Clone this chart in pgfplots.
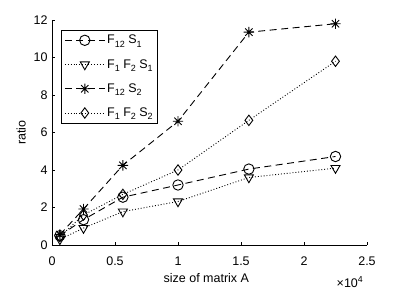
\documentclass[border=0pt]{standalone}
\usepackage{fontspec}
\setmainfont{Liberation Sans}
\usepackage{pgfplots}
\pgfplotsset{compat=1.18}
\pgfdeclareplotmark{mstar}{%
  \pgfpathmoveto{\pgfqpoint{-\pgfplotmarksize}{0pt}}\pgfpathlineto{\pgfqpoint{\pgfplotmarksize}{0pt}}%
  \pgfpathmoveto{\pgfqpoint{0pt}{-\pgfplotmarksize}}\pgfpathlineto{\pgfqpoint{0pt}{\pgfplotmarksize}}%
  \pgfpathmoveto{\pgfqpoint{-0.7071\pgfplotmarksize}{-0.7071\pgfplotmarksize}}\pgfpathlineto{\pgfqpoint{0.7071\pgfplotmarksize}{0.7071\pgfplotmarksize}}%
  \pgfpathmoveto{\pgfqpoint{-0.7071\pgfplotmarksize}{0.7071\pgfplotmarksize}}\pgfpathlineto{\pgfqpoint{0.7071\pgfplotmarksize}{-0.7071\pgfplotmarksize}}%
  \pgfusepathqstroke}
\newcommand{\sub}[1]{\raisebox{-0.5ex}{\fontsize{9}{10}\selectfont #1}}
\begin{document}
\begin{tikzpicture}
\useasboundingbox (-52pt,-45pt) rectangle (355pt,245pt);
\begin{axis}[
  at={(0,0)}, anchor=south west,
  width=315pt, height=225pt, scale only axis,
  font=\fontsize{12.5}{14}\selectfont,
  xmin=0, xmax=25000, ymin=0, ymax=12,
  axis lines=left, axis line style={-, line width=0.6pt},
  tick align=inside, major tick length=3.5pt,
  tick style={line width=0.6pt, black},
  xtick={0,5000,10000,15000,20000,25000},
  xticklabels={0,0.5,1,1.5,2,2.5},
  xticklabel style={yshift=-8pt},
  scaled x ticks=false,
  ytick={0,2,4,6,8,10,12},
  yticklabels={0,2,4,6,8,10,12},
  yticklabel style={xshift=-1pt},
  xlabel={size of matrix A},
  ylabel={ratio},
  xlabel style={at={(axis description cs:0.49,-0.147)},anchor=center},
  ylabel style={at={(axis description cs:-0.098,0.5)},anchor=center},
  legend style={at={(axis description cs:0.029,0.956)}, anchor=north west,
    draw=black, line width=0.6pt, font=\fontsize{12.5}{14}\selectfont,
    row sep=10pt, inner sep=3pt, cells={anchor=west}},
  legend image code/.code={\draw[mark repeat=2,mark phase=2,#1] plot coordinates {(0cm,0cm)(0.7cm,0cm)(1.4cm,0cm)};},
  every axis plot/.append style={black, line width=0.9pt, mark size=5.2pt},
  clip=false,
]
\addplot[dashed, dash pattern=on 7pt off 4.5pt, mark=o, mark options={solid}] coordinates {
(625,0.5) (2500,1.35) (5625,2.55) (10000,3.2) (15625,4.05) (22500,4.72)};
\addlegendentry{F\sub{12} S\sub{1}}
\addplot[dotted, mark=triangle, mark options={solid, rotate=180}] coordinates {
(625,0.3) (2500,0.9) (5625,1.78) (10000,2.32) (15625,3.6) (22500,4.1)};
\addlegendentry{F\sub{1} F\sub{2} S\sub{1}}
\addplot[dashed, dash pattern=on 7pt off 4.5pt, mark=mstar, mark options={solid}] coordinates {
(625,0.55) (2500,1.92) (5625,4.25) (10000,6.6) (15625,11.35) (22500,11.8)};
\addlegendentry{F\sub{12} S\sub{2}}
\addplot[dotted, mark=diamond, mark options={solid}] coordinates {
(625,0.45) (2500,1.6) (5625,2.7) (10000,4.0) (15625,6.65) (22500,9.8)};
\addlegendentry{F\sub{1} F\sub{2} S\sub{2}}
\node[anchor=center] at (axis description cs:0.946,-0.165) {×10\textsuperscript{4}};
\end{axis}
\end{tikzpicture}
\end{document}
